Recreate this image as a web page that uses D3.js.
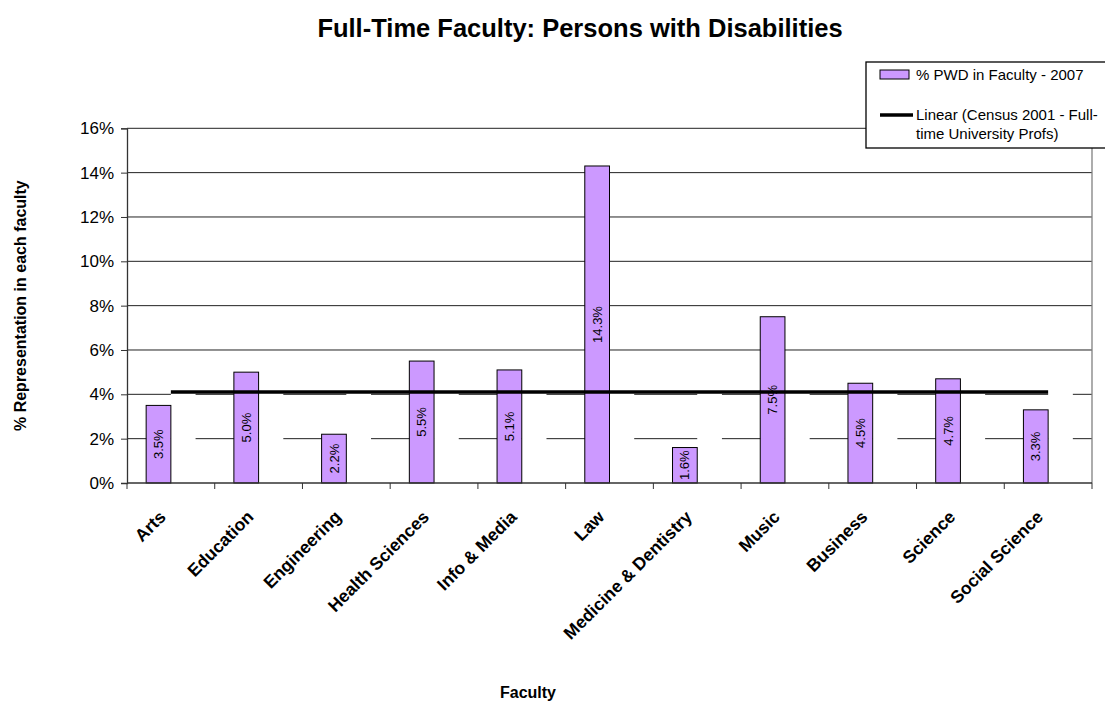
<!DOCTYPE html>
<html>
<head>
<meta charset="utf-8">
<script src="https://cdn.jsdelivr.net/npm/d3@7"></script>
<style>
  html, body { margin: 0; padding: 0; background: #fff; }
  svg { display: block; font-family: Arial, "Liberation Sans", sans-serif; }
</style>
</head>
<body>
<svg id="chart" width="1105" height="704"></svg>
<script>
// Faculty names along the category axis
const categories = ["Arts", "Education", "Engineering", "Health Sciences", "Info & Media", "Law",
  "Medicine & Dentistry", "Music", "Business", "Science", "Social Science"];
// % of full-time faculty who are persons with disabilities, 2007
const pwdValues = [3.5, 5.0, 2.2, 5.5, 5.1, 14.3, 1.6, 7.5, 4.5, 4.7, 3.3];
// Census 2001 benchmark for full-time university professors (plotted as hidden bars)
const censusValues = [4.1, 4.1, 4.1, 4.1, 4.1, 4.1, 4.1, 4.1, 4.1, 4.1, 4.1];
// Value axis ticks (percent)
const yTicks = [0, 2, 4, 6, 8, 10, 12, 14, 16];
const legendLabels = ["% PWD in Faculty - 2007", "Linear (Census 2001 - Full-", "time University Profs)"];

const svg = d3.select("#chart");
const plot = { left: 127, right: 1092, top: 128.3, bottom: 483 };

const y = d3.scaleLinear().domain([0, 16]).range([plot.bottom, plot.top]);
const x = d3.scaleBand().domain(categories).range([plot.left, plot.right]).padding(0);
const bw = x.bandwidth();
const groupW = bw * 2 / 3.55;          // two bars plus a 155% gap
const x1 = d3.scaleBand().domain(["pwd", "census"]).range([0, groupW]);
const off = (bw - groupW) / 2;

// gridlines
svg.append("g").selectAll("line").data(yTicks.filter(t => t > 0)).join("line")
  .attr("x1", plot.left).attr("x2", plot.right)
  .attr("y1", d => y(d)).attr("y2", d => y(d))
  .attr("stroke", "#222").attr("stroke-width", 1);

// plot area border (right side)
svg.append("line")
  .attr("x1", plot.right).attr("x2", plot.right)
  .attr("y1", plot.top).attr("y2", plot.bottom)
  .attr("stroke", "#808080").attr("stroke-width", 1.3);

// census bars: white, no outline
svg.append("g").selectAll("rect").data(censusValues).join("rect")
  .attr("x", (d, i) => x(categories[i]) + off + x1("census"))
  .attr("width", x1.bandwidth())
  .attr("y", d => y(d))
  .attr("height", d => y(0) - y(d))
  .attr("fill", "#fff");

// PWD bars
svg.append("g").selectAll("rect").data(pwdValues).join("rect")
  .attr("x", (d, i) => x(categories[i]) + off + x1("pwd"))
  .attr("width", x1.bandwidth())
  .attr("y", d => y(d))
  .attr("height", d => y(0) - y(d))
  .attr("fill", "#CC99FF").attr("stroke", "#000").attr("stroke-width", 1);

// data labels, rotated inside each bar
svg.append("g").selectAll("text").data(pwdValues).join("text")
  .attr("transform", (d, i) => {
    const cx = x(categories[i]) + off + x1("pwd") + x1.bandwidth() / 2;
    const cy = (y(d) + y(0)) / 2;
    return `translate(${cx},${cy}) rotate(-90)`;
  })
  .attr("text-anchor", "middle").attr("dy", "0.35em")
  .attr("font-size", 13).attr("fill", "#000")
  .text(d => d.toFixed(1) + "%");

// linear trendline fitted to the census series
const idx = censusValues.map((d, i) => i);
const mx = d3.mean(idx), my = d3.mean(censusValues);
const sxx = d3.sum(idx, i => (i - mx) ** 2);
const sxy = d3.sum(idx, i => (i - mx) * (censusValues[i] - my));
const slope = sxy / sxx, intercept = my - slope * mx;
const cxOf = i => x(categories[i]) + bw / 2;
svg.append("line")
  .attr("x1", cxOf(0)).attr("x2", cxOf(categories.length - 1))
  .attr("y1", y(intercept)).attr("y2", y(intercept + slope * (categories.length - 1)))
  .attr("stroke", "#000").attr("stroke-width", 3.5);

// value axis
const yAxis = d3.axisLeft(y).tickValues(yTicks).tickFormat(d => d + "%").tickSize(6).tickPadding(7);
const gy = svg.append("g").attr("transform", `translate(${plot.left},0)`).call(yAxis);
gy.select(".domain").attr("stroke", "#333").attr("stroke-width", 1.3);
gy.selectAll(".tick line").attr("stroke", "#333");
gy.selectAll("text").attr("font-size", 17).attr("fill", "#000")
  .attr("font-family", "Arial, 'Liberation Sans', sans-serif");

// category axis: ticks at category boundaries
svg.append("line")
  .attr("x1", plot.left).attr("x2", plot.right)
  .attr("y1", plot.bottom).attr("y2", plot.bottom)
  .attr("stroke", "#333").attr("stroke-width", 1.3);
const bounds = categories.map(c => x(c)).concat([plot.right]);
svg.append("g").selectAll("line").data(bounds).join("line")
  .attr("x1", d => d).attr("x2", d => d)
  .attr("y1", plot.bottom).attr("y2", plot.bottom + 6)
  .attr("stroke", "#333");

svg.append("g").selectAll("text").data(categories).join("text")
  .attr("transform", c => `translate(${x(c) + bw / 2 - 4},518) rotate(-45)`)
  .attr("text-anchor", "end")
  .attr("font-size", 17.5).attr("font-weight", "bold").attr("fill", "#000")
  .text(c => c);

// titles
svg.append("text")
  .attr("x", 580).attr("y", 37)
  .attr("text-anchor", "middle")
  .attr("font-size", 25.5).attr("font-weight", "bold")
  .text("Full-Time Faculty: Persons with Disabilities");

svg.append("text")
  .attr("x", 528).attr("y", 698)
  .attr("text-anchor", "middle")
  .attr("font-size", 16).attr("font-weight", "bold")
  .text("Faculty");

svg.append("text")
  .attr("transform", `translate(26,${(plot.top + plot.bottom) / 2}) rotate(-90)`)
  .attr("text-anchor", "middle")
  .attr("font-size", 16).attr("font-weight", "bold")
  .text("% Representation in each faculty");

// legend
const lg = svg.append("g").attr("transform", "translate(866,62)");
lg.append("rect").attr("x", 0).attr("y", 0).attr("width", 260).attr("height", 86)
  .attr("fill", "#fff").attr("stroke", "#000").attr("stroke-width", 1.3);
lg.append("rect").attr("x", 14).attr("y", 8).attr("width", 29).attr("height", 9)
  .attr("fill", "#CC99FF").attr("stroke", "#000").attr("stroke-width", 1);
lg.append("line").attr("x1", 14).attr("x2", 47).attr("y1", 53).attr("y2", 53)
  .attr("stroke", "#000").attr("stroke-width", 3.5);
lg.selectAll("text.lab").data(legendLabels).join("text").attr("class", "lab")
  .attr("x", 50)
  .attr("y", (d, i) => [18, 58, 77][i])
  .attr("font-size", 15).attr("fill", "#000")
  .text(d => d);
</script>
</body>
</html>
